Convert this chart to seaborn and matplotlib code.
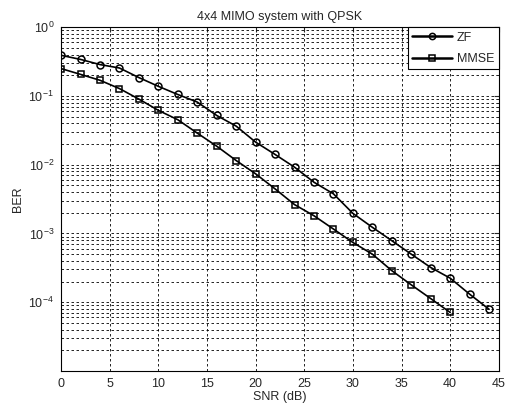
import pandas as pd
import seaborn as sns
import matplotlib.pyplot as plt
from matplotlib.ticker import LogLocator, NullFormatter

# BER values
snr_zf = [0, 2, 4, 6, 8, 10, 12, 14, 16, 18, 20, 22, 24, 26, 28, 30, 32, 34, 36, 38, 40, 42, 44]
ber_zf = [0.39, 0.34, 0.286, 0.255, 0.185, 0.138, 0.105, 0.0815, 0.052, 0.0364, 0.0213, 0.0141,
          0.0092, 0.00556, 0.00377, 0.00196, 0.00123, 7.85e-4, 5.0e-4, 3.2e-4, 2.24e-4, 1.31e-4, 7.9e-5]

snr_mmse = [0, 2, 4, 6, 8, 10, 12, 14, 16, 18, 20, 22, 24, 26, 28, 30, 32, 34, 36, 38, 40]
ber_mmse = [0.25, 0.206, 0.169, 0.128, 0.090, 0.0617, 0.0451, 0.0288, 0.0186, 0.0115, 0.00737,
            0.00445, 0.00263, 0.00181, 0.00116, 7.4e-4, 5.0e-4, 2.88e-4, 1.79e-4, 1.13e-4, 7.1e-5]

df = pd.concat([
    pd.DataFrame({'snr': snr_zf, 'ber': ber_zf, 'scheme': 'ZF'}),
    pd.DataFrame({'snr': snr_mmse, 'ber': ber_mmse, 'scheme': 'MMSE'}),
])

sns.set_style("white")
plt.rcParams['font.family'] = ['Liberation Sans', 'DejaVu Sans']
plt.rcParams['font.size'] = 9

fig = plt.figure(figsize=(5.09, 4.12), dpi=100)
ax = fig.add_axes([0.12, 0.0995, 0.86, 0.8345])

sns.lineplot(data=df, x='snr', y='ber', hue='scheme', style='scheme',
             markers={'ZF': 'o', 'MMSE': 's'}, dashes=False,
             palette={'ZF': 'black', 'MMSE': 'black'},
             markerfacecolor='none', markeredgecolor='black', markeredgewidth=1.1,
             markersize=5, linewidth=1.2, ax=ax)

ax.set_yscale('log')
ax.set_xlim(0, 45)
ax.set_ylim(1e-5, 1)
ax.set_xticks(range(0, 46, 5))
ax.set_yticks([1e0, 1e-1, 1e-2, 1e-3, 1e-4])
ax.yaxis.set_minor_locator(LogLocator(base=10, subs=range(2, 10)))
ax.yaxis.set_minor_formatter(NullFormatter())

ax.grid(True, which='major', axis='both', color='black', linestyle=(0, (3, 3)), linewidth=0.6)
ax.grid(True, which='minor', axis='y', color='black', linestyle=(0, (3, 3)), linewidth=0.6)

ax.tick_params(direction='in', which='both', top=True, right=True, labelsize=9, pad=5)
for s in ax.spines.values():
    s.set_color('black')
    s.set_linewidth(0.8)

ax.set_title('4x4 MIMO system with QPSK', fontsize=9, pad=5)
ax.set_xlabel('SNR (dB)', fontsize=9, labelpad=1)
ax.set_ylabel('BER', fontsize=9, labelpad=3)

leg = ax.legend(loc='upper right', fontsize=9, frameon=True, fancybox=False,
                edgecolor='black', borderaxespad=0, handlelength=3.2,
                labelspacing=0.75, borderpad=0.35, handletextpad=0.4, framealpha=1)
leg.get_frame().set_linewidth(0.8)
for h in leg.get_lines():
    h.set_linewidth(1.8)
    h.set_markersize(4.5)

fig.savefig('out.png', dpi=100)
